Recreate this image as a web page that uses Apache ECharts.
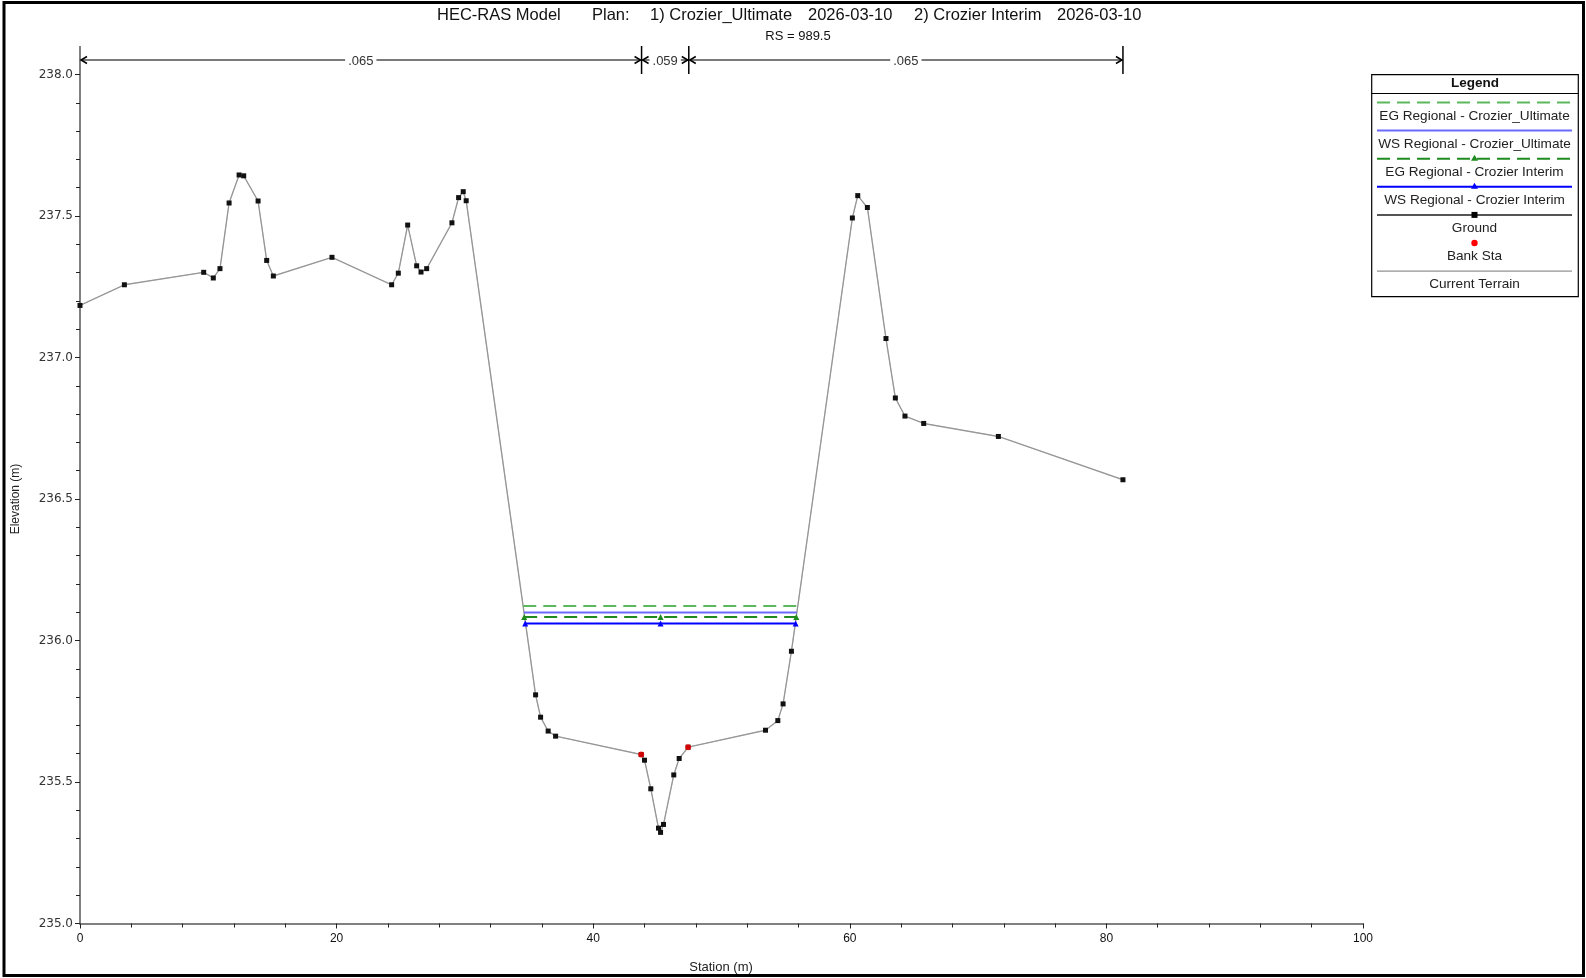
<!DOCTYPE html>
<html>
<head>
<meta charset="utf-8">
<script src="https://cdn.jsdelivr.net/npm/echarts@6/dist/echarts.min.js"></script>
<style>html,body{margin:0;padding:0;background:#fff;}#c{width:1586px;height:978px;}</style>
</head>
<body>
<div id="c"></div>
<script>
// ---- data ----
const groundStation = [0, 3.46, 9.64, 10.39, 10.91, 11.62, 12.40, 12.76, 13.88, 14.55, 15.07, 19.64, 24.29, 24.81, 25.54, 26.24, 26.58, 27.02, 28.99, 29.51, 29.87, 30.10, 35.51, 35.90, 36.49, 37.07, 43.74, 44.00, 44.49, 45.09, 45.25, 45.48, 46.28, 46.70, 47.40, 53.43, 54.39, 54.80, 55.45, 60.20, 60.62, 61.37, 62.82, 63.55, 64.30, 65.76, 71.58, 81.29];
const groundElev = [237.184, 237.257, 237.301, 237.281, 237.314, 237.546, 237.645, 237.642, 237.553, 237.343, 237.288, 237.354, 237.257, 237.298, 237.468, 237.324, 237.302, 237.314, 237.476, 237.565, 237.586, 237.554, 235.808, 235.729, 235.680, 235.662, 235.597, 235.577, 235.476, 235.337, 235.322, 235.350, 235.525, 235.583, 235.623, 235.683, 235.717, 235.776, 235.962, 237.493, 237.572, 237.530, 237.067, 236.857, 236.793, 236.767, 236.721, 236.568];
const bankStation = [43.74, 47.40];
const bankElev = [235.597, 235.623];
const waterNames = ['EG Regional - Crozier_Ultimate', 'WS Regional - Crozier_Ultimate', 'EG Regional - Crozier Interim', 'WS Regional - Crozier Interim'];
const waterElev = [236.122, 236.099, 236.083, 236.060];
const waterLeft = [34.55, 34.60, 34.62, 34.70];
const waterMid = [45.25, 45.25, 45.25, 45.25];
const waterRight = [55.90, 55.86, 55.83, 55.78];
const otherNames = ['Ground', 'Bank Sta', 'Current Terrain'];
const nBreaks = [0, 43.77, 47.45, 81.29];
const nValues = ['.065', '.059', '.065'];
const xTicks = [0, 100, 20];
const yTicks = [235, 238, 0.5];
const titleParts = ['HEC-RAS Model', 'Plan:', '1) Crozier_Ultimate', '2026-03-10', '2) Crozier Interim', '2026-03-10'];
const subTitle = 'RS = 989.5';

// ---- styles ----
const wColors = ['#5cb85c', '#6a6aff', '#1f8a1f', '#0000ff'];
const wDash = [[13, 7], null, [13, 7], null];
const wSymbol = [false, false, true, true];
const FONT = "'Liberation Sans', Arial, sans-serif";

const chart = echarts.init(document.getElementById('c'), null, {renderer: 'canvas'});

const pts = (xs, ys) => xs.map((x, i) => [x, ys[i]]);
const series = [];
series.push({
  name: 'Current Terrain', type: 'line', data: pts(groundStation, groundElev),
  showSymbol: false, lineStyle: {color: '#b5b5b5', width: 1.4}, z: 2, silent: true
});
series.push({
  name: 'Ground', type: 'line', data: pts(groundStation, groundElev),
  symbol: 'rect', symbolSize: 5, itemStyle: {color: '#111'},
  lineStyle: {color: '#8a8a8a', width: 0.8}, z: 3
});
waterNames.forEach((n, i) => {
  const d = wSymbol[i]
    ? [[waterLeft[i], waterElev[i]], [waterMid[i], waterElev[i]], [waterRight[i], waterElev[i]]]
    : [[waterLeft[i], waterElev[i]], [waterRight[i], waterElev[i]]];
  series.push({
    name: n, type: 'line', data: d,
    symbol: wSymbol[i] ? 'triangle' : 'none', symbolSize: 6, showSymbol: wSymbol[i],
    itemStyle: {color: wColors[i]},
    lineStyle: {color: wColors[i], width: 2, type: wDash[i] || 'solid'}, z: 4
  });
});
series.push({
  name: 'Bank Sta', type: 'scatter', data: pts(bankStation, bankElev),
  symbol: 'circle', symbolSize: 6, itemStyle: {color: '#ff0000'}, z: 5
});

const option = {
  animation: false,
  backgroundColor: '#fff',
  grid: {left: 80, right: 223, top: 74.5, bottom: 54.5},
  xAxis: {
    type: 'value', min: xTicks[0], max: xTicks[1], interval: xTicks[2],
    axisLine: {lineStyle: {color: '#808080', width: 2}},
    axisTick: {length: 5, lineStyle: {color: '#222'}},
    minorTick: {show: true, splitNumber: 5, length: 4, lineStyle: {color: '#222'}},
    axisLabel: {fontSize: 12, color: '#111', margin: 9, fontFamily: "'Liberation Sans Narrow', " + FONT},
    splitLine: {show: false}, minorSplitLine: {show: false}
  },
  yAxis: {
    type: 'value', min: yTicks[0], max: yTicks[1], interval: yTicks[2],
    axisLine: {lineStyle: {color: '#808080', width: 2}},
    axisTick: {length: 5, lineStyle: {color: '#222'}},
    minorTick: {show: true, splitNumber: 5, length: 4, lineStyle: {color: '#222'}},
    axisLabel: {fontSize: 12, color: '#333', margin: 7, fontFamily: "'DejaVu Sans', sans-serif",
      formatter: v => v.toFixed(1)},
    splitLine: {show: false}, minorSplitLine: {show: false}
  },
  series: series
};
chart.setOption(option);

// ---- graphics (title, n-values, legend, frame) ----
const g = [];
// frame
g.push({type: 'rect', shape: {x: 4, y: 2.5, width: 1579.5, height: 973}, style: {fill: null, stroke: '#000', lineWidth: 3}, z: 100});
// title
const titleX = [437, 592, 650, 808, 914, 1057];
titleParts.forEach((t, i) => g.push({type: 'text', x: titleX[i], y: 15.5, style: {text: t, font: '16.5px ' + FONT, fill: '#111', textAlign: 'left', textVerticalAlign: 'middle'}}));
g.push({type: 'text', x: 798, y: 36, style: {text: subTitle, font: '13px ' + FONT, fill: '#111', textAlign: 'center', textVerticalAlign: 'middle'}});
// axis names
g.push({type: 'text', x: 16, y: 499, rotation: Math.PI / 2, style: {text: 'Elevation (m)', font: '12px ' + FONT, fill: '#222', textAlign: 'center', textVerticalAlign: 'middle'}});
g.push({type: 'text', x: 721, y: 967, style: {text: 'Station (m)', font: '13px ' + FONT, fill: '#222', textAlign: 'center', textVerticalAlign: 'middle'}});

// Manning's n bars
const nY = 60, barTop = 46, barBot = 74;
const px = nBreaks.map(s => chart.convertToPixel({gridIndex: 0}, [s, 238])[0]);
px.forEach((x, i) => g.push({type: 'line', shape: {x1: x, y1: barTop, x2: x, y2: barBot},
  style: {stroke: i === 0 ? '#808080' : '#000', lineWidth: i === 0 ? 2 : 1.5}, z: 10}));
for (let i = 0; i < nValues.length; i++) {
  const a = px[i] + 1, b = px[i + 1] - 1;
  g.push({type: 'line', shape: {x1: a, y1: nY, x2: b, y2: nY}, style: {stroke: '#7a7a7a', lineWidth: 2}, z: 10});
  g.push({type: 'polyline', shape: {points: [[a + 6, nY - 3.5], [a, nY], [a + 6, nY + 3.5]]}, style: {stroke: '#000', lineWidth: 1.5, fill: null}, z: 11});
  g.push({type: 'polyline', shape: {points: [[b - 6, nY - 3.5], [b, nY], [b - 6, nY + 3.5]]}, style: {stroke: '#000', lineWidth: 1.5, fill: null}, z: 11});
  g.push({type: 'text', x: (a + b) / 2, y: nY + 1, style: {text: nValues[i], font: '13px ' + FONT, fill: '#333',
    textAlign: 'center', textVerticalAlign: 'middle', backgroundColor: '#fff', padding: [1, 3]}, z: 12});
}

// legend
const LX = 1371.7, LY = 74.7, LW = 206.6, LH = 222;
g.push({type: 'rect', shape: {x: LX, y: LY, width: LW, height: LH}, style: {fill: '#fff', stroke: '#000', lineWidth: 1.2}, z: 20});
g.push({type: 'text', x: LX + LW / 2, y: 83, style: {text: 'Legend', font: 'bold 13.5px ' + FONT, fill: '#111', textAlign: 'center', textVerticalAlign: 'middle'}, z: 21});
g.push({type: 'line', shape: {x1: LX, y1: 93.5, x2: LX + LW, y2: 93.5}, style: {stroke: '#000', lineWidth: 1}, z: 21});
const lx1 = 1377, lx2 = 1572, lcx = (lx1 + lx2) / 2;
const legendNames = waterNames.concat(otherNames);
legendNames.forEach((n, i) => {
  const ly = 102.5 + i * 28.1;
  const ty = ly + 13.3;
  if (i < 4) {
    g.push({type: 'line', shape: {x1: lx1, y1: ly, x2: lx2, y2: ly}, style: {stroke: wColors[i], lineWidth: 2, lineDash: wDash[i]}, z: 21});
    if (wSymbol[i]) g.push({type: 'polygon', shape: {points: [[lcx, ly - 4], [lcx - 3.5, ly + 2], [lcx + 3.5, ly + 2]]}, style: {fill: wColors[i]}, z: 22});
  } else if (n === 'Ground') {
    g.push({type: 'line', shape: {x1: lx1, y1: ly, x2: lx2, y2: ly}, style: {stroke: '#555', lineWidth: 2}, z: 21});
    g.push({type: 'rect', shape: {x: lcx - 3, y: ly - 3, width: 6, height: 6}, style: {fill: '#000'}, z: 22});
  } else if (n === 'Bank Sta') {
    g.push({type: 'circle', shape: {cx: lcx, cy: ly, r: 3.2}, style: {fill: '#ff0000'}, z: 22});
  } else {
    g.push({type: 'line', shape: {x1: lx1, y1: ly, x2: lx2, y2: ly}, style: {stroke: '#777', lineWidth: 1}, z: 21});
  }
  g.push({type: 'text', x: lcx, y: ty, style: {text: n, font: '13.6px ' + FONT, fill: '#222', textAlign: 'center', textVerticalAlign: 'middle'}, z: 22});
});

chart.setOption({graphic: {elements: g}});
</script>
</body>
</html>
